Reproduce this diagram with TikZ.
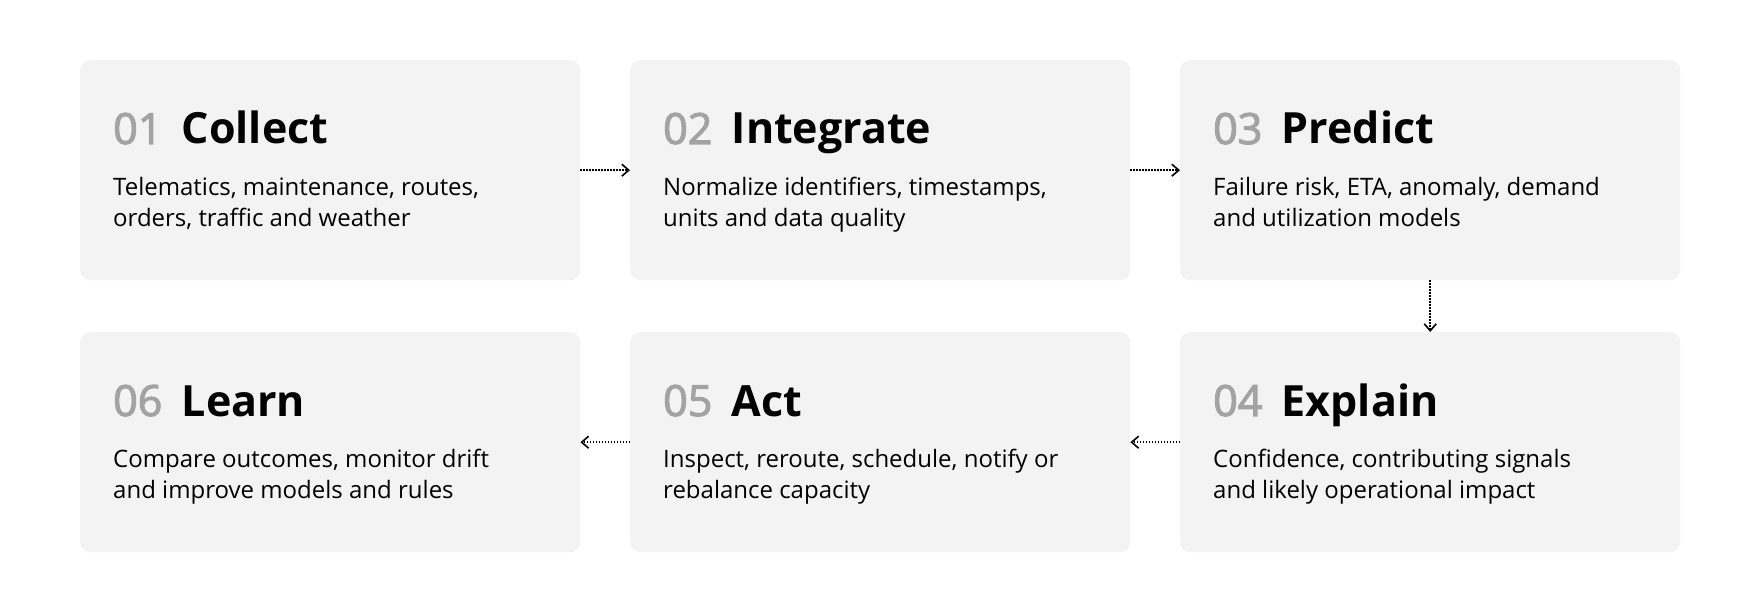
\documentclass[tikz,border=0pt]{standalone}
\usepackage{fontspec}
\setmainfont{Open Sans}
\newfontfamily\numfont[FakeBold=2.5]{Open Sans}
\usetikzlibrary{arrows.meta}
\definecolor{boxfill}{HTML}{F3F3F3}
\definecolor{numgray}{HTML}{A3A3A3}
\begin{document}
\begin{tikzpicture}[x=1pt,y=-1pt,
  stepbox/.style={draw=none,fill=boxfill,rounded corners=10pt,minimum width=500pt,minimum height=220pt,inner sep=0pt,anchor=north west},
  num/.style={inner sep=0pt,anchor=base west,text=numgray,font=\numfont\fontsize{43}{50}\selectfont},
  ttl/.style={inner sep=0pt,anchor=base west,text=black,font=\fontsize{43}{50}\selectfont\bfseries},
  body/.style={inner sep=0pt,anchor=base west,align=left,text=black,font=\fontsize{24}{31.5}\selectfont},
  flow/.style={line width=1.5pt,dash pattern=on 1.5pt off 1.5pt,-{Straight Barb[length=7pt,width=12pt,line width=1.6pt]}}
]
\useasboundingbox (0,0) rectangle (1760,612);
\node[stepbox] (box1) at (80,60) {};
\node[stepbox] (box2) at (630,60) {};
\node[stepbox] (box3) at (1180,60) {};
\node[stepbox] (box4) at (1180,332) {};
\node[stepbox] (box5) at (630,332) {};
\node[stepbox] (box6) at (80,332) {};

\node[num] (n1) at ([xshift=33pt,yshift=-84pt]box1.north west) {01};
\node[ttl] (t1) at ([xshift=19pt]n1.base east) {Collect};
\node[body] (b1) at ([xshift=33pt,yshift=-166.5pt]box1.north west) {Telematics, maintenance, routes,\\orders, traffic and weather};

\node[num] (n2) at ([xshift=33pt,yshift=-84pt]box2.north west) {02};
\node[ttl] (t2) at ([xshift=19pt]n2.base east) {Integrate};
\node[body] (b2) at ([xshift=33pt,yshift=-166.5pt]box2.north west) {Normalize identifiers, timestamps,\\units and data quality};

\node[num] (n3) at ([xshift=33pt,yshift=-84pt]box3.north west) {03};
\node[ttl] (t3) at ([xshift=19pt]n3.base east) {Predict};
\node[body] (b3) at ([xshift=33pt,yshift=-166.5pt]box3.north west) {Failure risk, ETA, anomaly, demand\\and utilization models};

\node[num] (n4) at ([xshift=33pt,yshift=-84pt]box4.north west) {04};
\node[ttl] (t4) at ([xshift=19pt]n4.base east) {Explain};
\node[body] (b4) at ([xshift=33pt,yshift=-166.5pt]box4.north west) {Confidence, contributing signals\\and likely operational impact};

\node[num] (n5) at ([xshift=33pt,yshift=-84pt]box5.north west) {05};
\node[ttl] (t5) at ([xshift=19pt]n5.base east) {Act};
\node[body] (b5) at ([xshift=33pt,yshift=-166.5pt]box5.north west) {Inspect, reroute, schedule, notify or\\rebalance capacity};

\node[num] (n6) at ([xshift=33pt,yshift=-84pt]box6.north west) {06};
\node[ttl] (t6) at ([xshift=19pt]n6.base east) {Learn};
\node[body] (b6) at ([xshift=33pt,yshift=-166.5pt]box6.north west) {Compare outcomes, monitor drift\\and improve models and rules};

\draw[flow] (box1.east) -- (box2.west);
\draw[flow] (box2.east) -- (box3.west);
\draw[flow] (box3.south) -- (box4.north);
\draw[flow] (box4.west) -- (box5.east);
\draw[flow] (box5.west) -- (box6.east);
\end{tikzpicture}
\end{document}
